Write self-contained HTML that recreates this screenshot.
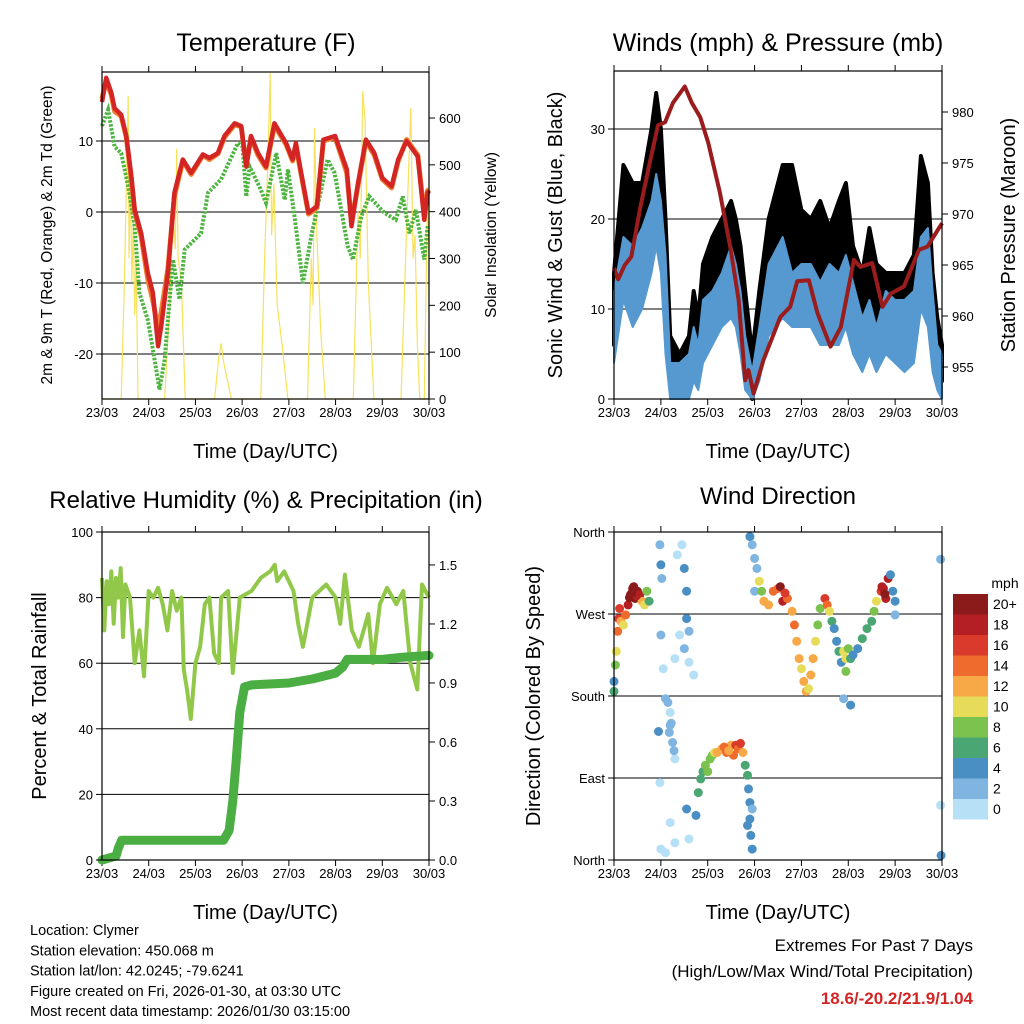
<!DOCTYPE html>
<html><head><meta charset="utf-8"><style>
html,body{margin:0;padding:0;background:#fff;}
svg{display:block;font-family:"Liberation Sans",sans-serif;}
</style></head><body>
<svg id="chart" xmlns="http://www.w3.org/2000/svg" width="1024" height="1024" viewBox="0 0 1024 1024"></svg>
<script>
// ---------- Temperature panel data ----------
const tempT = [0,0.09,0.2,0.27,0.41,0.52,0.63,0.7,0.84,0.98,1.09,1.2,1.27,1.41,1.55,1.73,1.91,2.16,2.3,2.48,2.62,2.84,2.98,3.09,3.19,3.34,3.51,3.69,3.94,4.08,4.15,4.25,4.42,4.6,4.74,4.99,5.24,5.34,5.47,5.65,5.83,6.0,6.2,6.34,6.52,6.76,6.9,6.97,7.0];
const tempRed = [15.5,18.9,16.8,14.6,13.7,10.7,5.0,0.3,-3,-8.6,-11.4,-18.9,-16,-8.6,2.7,7.4,5.5,8.1,7.6,8.3,10.7,12.5,12.1,6.4,10.7,8.3,6.4,12.5,9.7,7.4,9.7,6.0,-0.1,0.8,10.2,10.7,6.0,-2.0,3.6,10.2,8.3,4.8,3.6,7.4,10.0,7.8,-1.1,2.7,3.0];
const tempOrange = [16,18.5,16.5,14.2,13.5,10.5,4.5,0,-3.5,-9.5,-12.5,-16.5,-14,-8,2.2,7.2,5.3,8.0,7.4,8.2,10.5,12.3,12.0,6.6,10.5,8.0,6.2,12.2,9.5,7.2,9.5,5.8,-0.3,0.6,10.0,10.5,5.5,-1.5,3.4,10.0,8.0,4.6,3.4,7.2,10.2,8.0,-0.5,3.0,3.2];
const dewT = [0,0.13,0.27,0.41,0.56,0.7,0.8,0.98,1.09,1.23,1.34,1.52,1.66,1.77,2.12,2.27,2.55,2.91,3.01,3.09,3.16,3.37,3.51,3.73,3.91,3.98,4.12,4.3,4.48,4.83,4.98,5.26,5.37,5.55,5.72,6.04,6.29,6.44,6.58,6.72,6.9,6.97];
const dewG = [12.1,14.4,9.2,8.3,3.6,-2.0,-11.4,-15.2,-19.4,-25,-20.8,-6.7,-12.3,-5.3,-3,2.7,4.6,9.7,9.2,2.2,6.4,3.6,1.3,8.3,1.7,6.0,-0.6,-10.0,-3.4,7.4,5.5,-4.8,-6.7,-0.6,2.2,-0.1,-1.1,2.2,-3.0,0.3,-6.7,-2.0];
const solarT = [0,0.41,0.48,0.52,0.56,0.58,0.61,0.64,0.67,0.7,0.73,0.77,1.34,1.45,1.52,1.57,1.6,1.63,1.7,1.78,2.41,2.5,2.55,2.6,2.77,3.4,3.48,3.55,3.6,3.63,3.68,3.75,3.85,3.98,4.4,4.48,4.52,4.55,4.6,4.68,4.78,5.38,5.48,5.53,5.58,5.63,5.7,5.82,6.4,6.5,6.55,6.61,6.66,6.7,6.75,6.8,6.9,6.97,7.0];
const solarV = [0,0,250,450,647,300,480,250,380,180,300,0,0,200,400,320,534,300,250,0,0,90,119,80,0,0,300,500,696,350,460,200,120,0,0,300,200,579,350,150,0,0,400,300,657,600,250,0,0,300,450,621,300,350,120,0,0,450,300];
// ---------- Wind panel data ----------
const windT = [0,0.2,0.4,0.6,0.8,0.9,1.0,1.1,1.2,1.4,1.6,1.7,1.8,1.9,2.1,2.3,2.5,2.6,2.7,2.8,2.95,3.1,3.3,3.6,3.8,4.0,4.2,4.4,4.6,4.8,4.95,5.1,5.3,5.45,5.6,5.8,6.0,6.2,6.4,6.55,6.7,6.8,6.9,7.0];
const windHi = [12,18,17,19,22,25,22,16,4,4,5,8,6,11,12,14,17,15,12,7,3,8,15,18,14,15,15,13,15,14,16,13,9,11,8,12,11,11,12,18,19,12,6,5];
const windLo = [4,11,8,10,14,17,14,5,0,0,0,2,1,4,6,8,9,8,5,1,0,2,7,9,8,8,8,6,6,6,8,5,3,5,3,5,4,3,4,10,8,3,1,0];
const gustHi = [14,26,24,24,30,34,30,20,7,5,7,12,9,15,18,20,22,20,17,12,5,12,20,26,26,21,20,22,19,22,24,17,14,19,15,14,14,14,16,27,24,14,9,6];
const gustLo = [6,15,14,16,18,20,16,10,2,1,2,4,3,7,9,11,13,12,7,3,0,4,10,12,11,11,10,8,8,9,11,7,5,7,5,7,6,5,6,14,12,5,3,2];
const presT = [0,0.09,0.23,0.37,0.55,0.73,0.94,1.09,1.26,1.51,1.66,1.84,2.01,2.26,2.48,2.66,2.8,2.87,2.98,3.19,3.55,3.76,3.91,4.16,4.34,4.62,4.84,5.12,5.26,5.51,5.73,5.91,6.19,6.51,6.69,7.0];
const presV = [964.7,963.6,965.0,965.8,970.4,974.3,978.7,979.0,980.9,982.5,980.9,979.5,977.0,972.1,966.8,961.6,953.7,954.7,952.4,955.7,959.9,960.9,963.4,963.5,960.3,957.0,958.9,965.5,964.8,965.2,960.9,962.2,962.9,966.5,966.8,969.1];
// ---------- RH / precip data ----------
const rhT = [0,0.05,0.1,0.15,0.2,0.25,0.3,0.35,0.4,0.45,0.5,0.6,0.7,0.8,0.9,1.0,1.1,1.2,1.3,1.4,1.5,1.6,1.7,1.75,1.82,1.9,2.0,2.1,2.2,2.3,2.4,2.5,2.55,2.7,2.8,2.95,3.2,3.4,3.6,3.7,3.75,3.9,4.1,4.2,4.3,4.5,4.8,5.0,5.1,5.2,5.35,5.5,5.7,5.8,5.95,6.1,6.3,6.45,6.6,6.75,6.85,7.0];
const rhV = [86,70,85,78,88,72,86,80,89,68,84,80,60,70,56,82,80,83,78,70,82,76,80,58,52,43,60,65,78,80,63,60,80,82,57,80,82,86,88,90,85,88,82,72,65,80,84,80,72,87,70,65,75,60,78,83,78,82,60,52,84,80];
const precipT = [0,0.3,0.35,0.42,2.6,2.72,2.8,2.87,2.95,3.05,3.2,4.0,4.5,5.0,5.15,5.25,6.0,6.4,7.0];
const precipV = [0,0.02,0.06,0.1,0.1,0.15,0.3,0.5,0.75,0.88,0.89,0.9,0.92,0.95,0.98,1.02,1.02,1.03,1.04];
// ---------- Wind direction data ----------
const dirT = [0,0,0.03,0.05,0.08,0.1,0.12,0.15,0.2,0.25,0.3,0.35,0.4,0.45,0.5,0.55,0.6,0.65,0.7,0.75,0.33,0.42,0.48,0.38,
0.98,1.0,1.02,1.0,1.05,1.1,1.2,1.25,1.3,1.2,1.15,0.95,0.98,1.0,1.1,1.3,1.2,1.35,1.45,1.5,1.55,1.55,1.6,1.5,1.6,1.55,1.6,1.4,1.3,1.7,1.22,1.18,1.28,
1.75,1.8,1.85,1.9,1.95,2.0,2.05,2.1,2.15,2.2,2.3,2.4,2.5,2.55,2.6,2.65,2.7,2.75,2.35,2.45,
2.8,2.85,2.87,2.9,2.9,2.92,2.95,2.85,2.95,
2.9,2.95,3.0,3.05,3.0,3.1,3.15,3.2,3.3,3.4,3.5,3.6,3.7,3.8,3.85,3.9,3.95,4.0,4.05,4.1,4.15,4.2,4.25,4.3,4.35,4.4,4.5,4.55,4.6,4.65,4.7,4.75,4.8,4.85,4.9,4.95,5.0,5.05,5.1,5.2,5.3,5.4,5.5,5.55,5.6,5.7,5.75,5.8,5.85,5.9,5.95,6.0,6.0,5.05,4.95,4.9,3.55,3.65,5.72,5.78,6.97,6.97,6.98];
const dirV = [196,185,214,229,251,265,276,262,258,269,280,291,298,287,295,291,284,280,295,284,288,300,290,293,
346,324,309,247,210,177,148,129,111,162,173,141,85,12,8,19,41,335,346,320,295,265,251,232,217,56,23,247,221,203,150,140,120,
49,74,89,97,104,97,111,115,118,118,122,118,126,115,126,122,128,118,124,120,
104,93,78,63,45,27,12,38,56,
355,346,331,320,295,306,295,284,280,295,298,284,287,273,258,240,221,210,196,185,188,203,221,240,258,276,287,280,273,262,254,240,229,217,229,221,232,221,225,232,243,254,262,273,284,295,298,287,309,313,295,284,269,170,207,177,300,293,300,292,330,60,5];
const dirS = [4,6,8,10,14,16,16,12,10,14,18,20,20,20,20,18,12,10,8,6,20,20,18,20,
2,4,2,2,1,2,3,2,1,1,2,4,1,0,0,0,1,0,1,4,4,4,3,2,1,4,1,1,1,1,2,2,3,
4,6,6,6,8,8,8,8,10,12,12,14,12,14,16,14,16,12,14,12,
6,6,4,4,4,4,4,4,2,
4,2,2,3,2,10,8,12,12,14,14,18,14,12,14,12,12,10,12,12,10,12,12,10,8,8,16,14,10,6,4,4,6,4,10,10,8,6,4,4,6,6,6,8,10,16,18,18,18,4,4,4,2,4,8,3,20,16,18,20,2,1,4];
// ---------- Axis labels ----------
const dayLabels = ["23/03","24/03","25/03","26/03","27/03","28/03","29/03","30/03"];
const tempTicks = [-20,-10,0,10];
const solarTicks = [0,100,200,300,400,500,600];
const windTicks = [0,10,20,30];
const presTicks = [955,960,965,970,975,980];
const rhTicks = [0,20,40,60,80,100];
const precipTicks = [0.0,0.3,0.6,0.9,1.2,1.5];
const dirTicks = [0,90,180,270,360];
const dirNames = ["North","East","South","West","North"];
const cbLabels = ["20+","18","16","14","12","10","8","6","4","2","0"];
const cbColors = ["#8b1a1a","#b41f24","#d93a2b","#ef6a2d","#f7a847","#e6dc5a","#7cc24e","#4aa673","#4a8fc4","#7fb5e0","#b5e0f5"];

const NS = "http://www.w3.org/2000/svg";
const svg = document.getElementById("chart");
function mk(tag, attrs, parent){const e=document.createElementNS(NS,tag);for(const k in attrs)e.setAttribute(k,attrs[k]);(parent||svg).appendChild(e);return e;}
function txt(s, x, y, size, anchor, parent, extra){const e=mk("text",Object.assign({x:x,y:y,"font-size":size,"text-anchor":anchor||"middle",fill:"#000"},extra||{}),parent);e.textContent=s;return e;}
function pts(ts, vs, fx, fy){return ts.map((t,i)=>fx(t).toFixed(1)+","+fy(vs[i]).toFixed(1)).join(" ");}

const P1={x0:102,x1:429,y0:72,y1:399}, P2={x0:614,x1:942,y0:71,y1:399}, P3={x0:102,x1:429,y0:532,y1:860}, P4={x0:614,x1:942,y0:532,y1:860};
const xs1=t=>P1.x0+t*(P1.x1-P1.x0)/7, xs2=t=>P2.x0+t*(P2.x1-P2.x0)/7, xs3=t=>P3.x0+t*(P3.x1-P3.x0)/7, xs4=t=>P4.x0+t*(P4.x1-P4.x0)/7;
const yTemp=v=>212-v*7.1, ySolar=v=>399-v*0.4683;
const yWind=v=>399-v*9, yPres=v=>112+(980-v)*10.2;
const yRH=v=>860-v*3.28, yPrec=v=>860-v*196.7;
const yDir=v=>532+(360-v)/360*328;

function frame(P, name, xs){
  const g=mk("g",{});
  
  
  dayLabels.forEach((d,i)=>{
    const x=xs(i);
    mk("line",{x1:x,x2:x,y1:P.y1,y2:P.y1+6,stroke:"#000","stroke-width":1},g);
    mk("line",{x1:x,x2:x,y1:P.y0,y2:P.y0-6,stroke:"#000","stroke-width":1},g);
    const l=txt(d,x,P.y1+18,13,"middle",g);
    
    
  });
  const t=txt("Time (Day/UTC)",(P.x0+P.x1)/2,P.y1+59,20,"middle",g);
  
  
  return g;
}
function hgrid(P, ys, g){ys.forEach(y=>mk("line",{x1:P.x0,x2:P.x1,y1:y,y2:y,stroke:"#000","stroke-width":1},g));}
function box(P,g){mk("rect",{x:P.x0,y:P.y0,width:P.x1-P.x0,height:P.y1-P.y0,fill:"none",stroke:"#000","stroke-width":1.2},g);}
function leftTicks(P, vals, fy, labels, g, size){vals.forEach((v,i)=>{const y=fy(v);mk("line",{x1:P.x0-6,x2:P.x0,y1:y,y2:y,stroke:"#000"},g);txt(labels[i],P.x0-9,y+5,size||13,"end",g);});}
function rightTicks(P, vals, fy, labels, g){vals.forEach((v,i)=>{const y=fy(v);mk("line",{x1:P.x1,x2:P.x1+6,y1:y,y2:y,stroke:"#000"},g);txt(labels[i],P.x1+10,y+5,13,"start",g);});}
function vtitle(s,x,y,size,g){const e=txt(s,0,0,size,"middle",g,{transform:"translate("+x+","+y+") rotate(-90)"});return e;}

// ===== Panel 1 =====
const g1=frame(P1,"temperature-panel",xs1);
let e=txt("Temperature (F)",266,51,25,"middle",g1);


hgrid(P1,tempTicks.map(yTemp),g1);
const solarLine=mk("polyline",{points:pts(solarT,solarV,xs1,ySolar),fill:"none",stroke:"#f7e15a","stroke-width":1.2},g1);


const dewLine=mk("polyline",{points:pts(dewT,dewG,xs1,yTemp),fill:"none",stroke:"#4cb43f","stroke-width":4,"stroke-dasharray":"2.5 1.5"},g1);


const orLine=mk("polyline",{points:pts(tempT,tempOrange,xs1,yTemp),fill:"none",stroke:"#f08030","stroke-width":5,"stroke-linejoin":"round"},g1);


const redLine=mk("polyline",{points:pts(tempT,tempRed,xs1,yTemp),fill:"none",stroke:"#d42525","stroke-width":4.5,"stroke-linejoin":"round"},g1);


box(P1,g1);
leftTicks(P1,tempTicks,yTemp,tempTicks.map(String),g1);
rightTicks(P1,solarTicks,ySolar,solarTicks.map(String),g1);
e=vtitle("2m & 9m T (Red, Orange) & 2m Td (Green)",52,235,15.5,g1);


e=vtitle("Solar Insolation (Yellow)",496,235,15.5,g1);



// ===== Panel 2 =====
const g2=frame(P2,"winds-panel",xs2);
e=txt("Winds (mph) & Pressure (mb)",778,51,25,"middle",g2);


hgrid(P2,[10,20,30].map(yWind),g2);
const gustPoly=mk("polygon",{points:pts(windT,gustHi,xs2,yWind)+" "+pts(windT.slice().reverse(),gustLo.slice().reverse(),xs2,yWind),fill:"#000",stroke:"#000","stroke-width":4,"stroke-linejoin":"round"},g2);


const windPoly=mk("polygon",{points:pts(windT,windHi,xs2,yWind)+" "+pts(windT.slice().reverse(),windLo.slice().reverse(),xs2,yWind),fill:"#5599d0",stroke:"#5599d0","stroke-width":2,"stroke-linejoin":"round"},g2);


const presLine=mk("polyline",{points:pts(presT,presV,xs2,yPres),fill:"none",stroke:"#9a1c1c","stroke-width":4,"stroke-linejoin":"round"},g2);


box(P2,g2);
leftTicks(P2,windTicks,yWind,windTicks.map(String),g2);
rightTicks(P2,presTicks,yPres,presTicks.map(String),g2);
e=vtitle("Sonic Wind & Gust (Blue, Black)",562,235,20,g2);


e=vtitle("Station Pressure (Maroon)",1015,235,20,g2);



// ===== Panel 3 =====
const g3=frame(P3,"humidity-panel",xs3);
e=txt("Relative Humidity (%) & Precipitation (in)",266,508,24,"middle",g3);


hgrid(P3,[20,40,60,80].map(yRH),g3);
const rhLine=mk("polyline",{points:pts(rhT,rhV,xs3,yRH),fill:"none",stroke:"#92c84a","stroke-width":4,"stroke-linejoin":"round"},g3);


const prLine=mk("polyline",{points:pts(precipT,precipV,xs3,yPrec),fill:"none",stroke:"#4aae42","stroke-width":9,"stroke-linejoin":"round","stroke-linecap":"round"},g3);


box(P3,g3);
leftTicks(P3,rhTicks,yRH,rhTicks.map(String),g3);
rightTicks(P3,precipTicks,yPrec,precipTicks.map(v=>v.toFixed(1)),g3);
e=vtitle("Percent & Total Rainfall",46,696,20,g3);



// ===== Panel 4 =====
const g4=frame(P4,"wind-direction-panel",xs4);
e=txt("Wind Direction",778,504,24,"middle",g4);


hgrid(P4,[90,180,270].map(yDir),g4);
dirT.forEach((t,i)=>{
  const idx=10-Math.min(10,Math.floor(dirS[i]/2));
  const c=mk("circle",{cx:xs4(t).toFixed(1),cy:yDir(dirV[i]).toFixed(1),r:4.5,fill:cbColors[idx]},g4);
  
  
});
box(P4,g4);
leftTicks(P4,dirTicks,yDir,dirNames,g4,13);
const cbg=mk("g",{});


txt("mph",1005,588,14,"middle",cbg);
cbColors.forEach((c,i)=>{
  const y=594+i*20.5;
  const r=mk("rect",{x:953,y:y,width:35,height:20.5,fill:c},cbg);
  
  
  txt(cbLabels[i],993,y+15,14,"start",cbg);
});
e=vtitle("Direction (Colored By Speed)",540,696,20,g4);



// ===== Footer text =====
const info=["Location: Clymer","Station elevation: 450.068 m","Station lat/lon: 42.0245; -79.6241","Figure created on Fri, 2026-01-30, at 03:30 UTC","Most recent data timestamp: 2026/01/30 03:15:00"];
info.forEach((s,i)=>{
  const t=txt(s,30,935+i*20.3,14.5,"start");
  
  
});
e=txt("Extremes For Past 7 Days",973,951,17,"end");


e=txt("(High/Low/Max Wind/Total Precipitation)",973,977,17,"end");


e=txt("18.6/-20.2/21.9/1.04",973,1004,17,"end",null,{fill:"#d42525","font-weight":"bold"});


</script>
</body></html>
